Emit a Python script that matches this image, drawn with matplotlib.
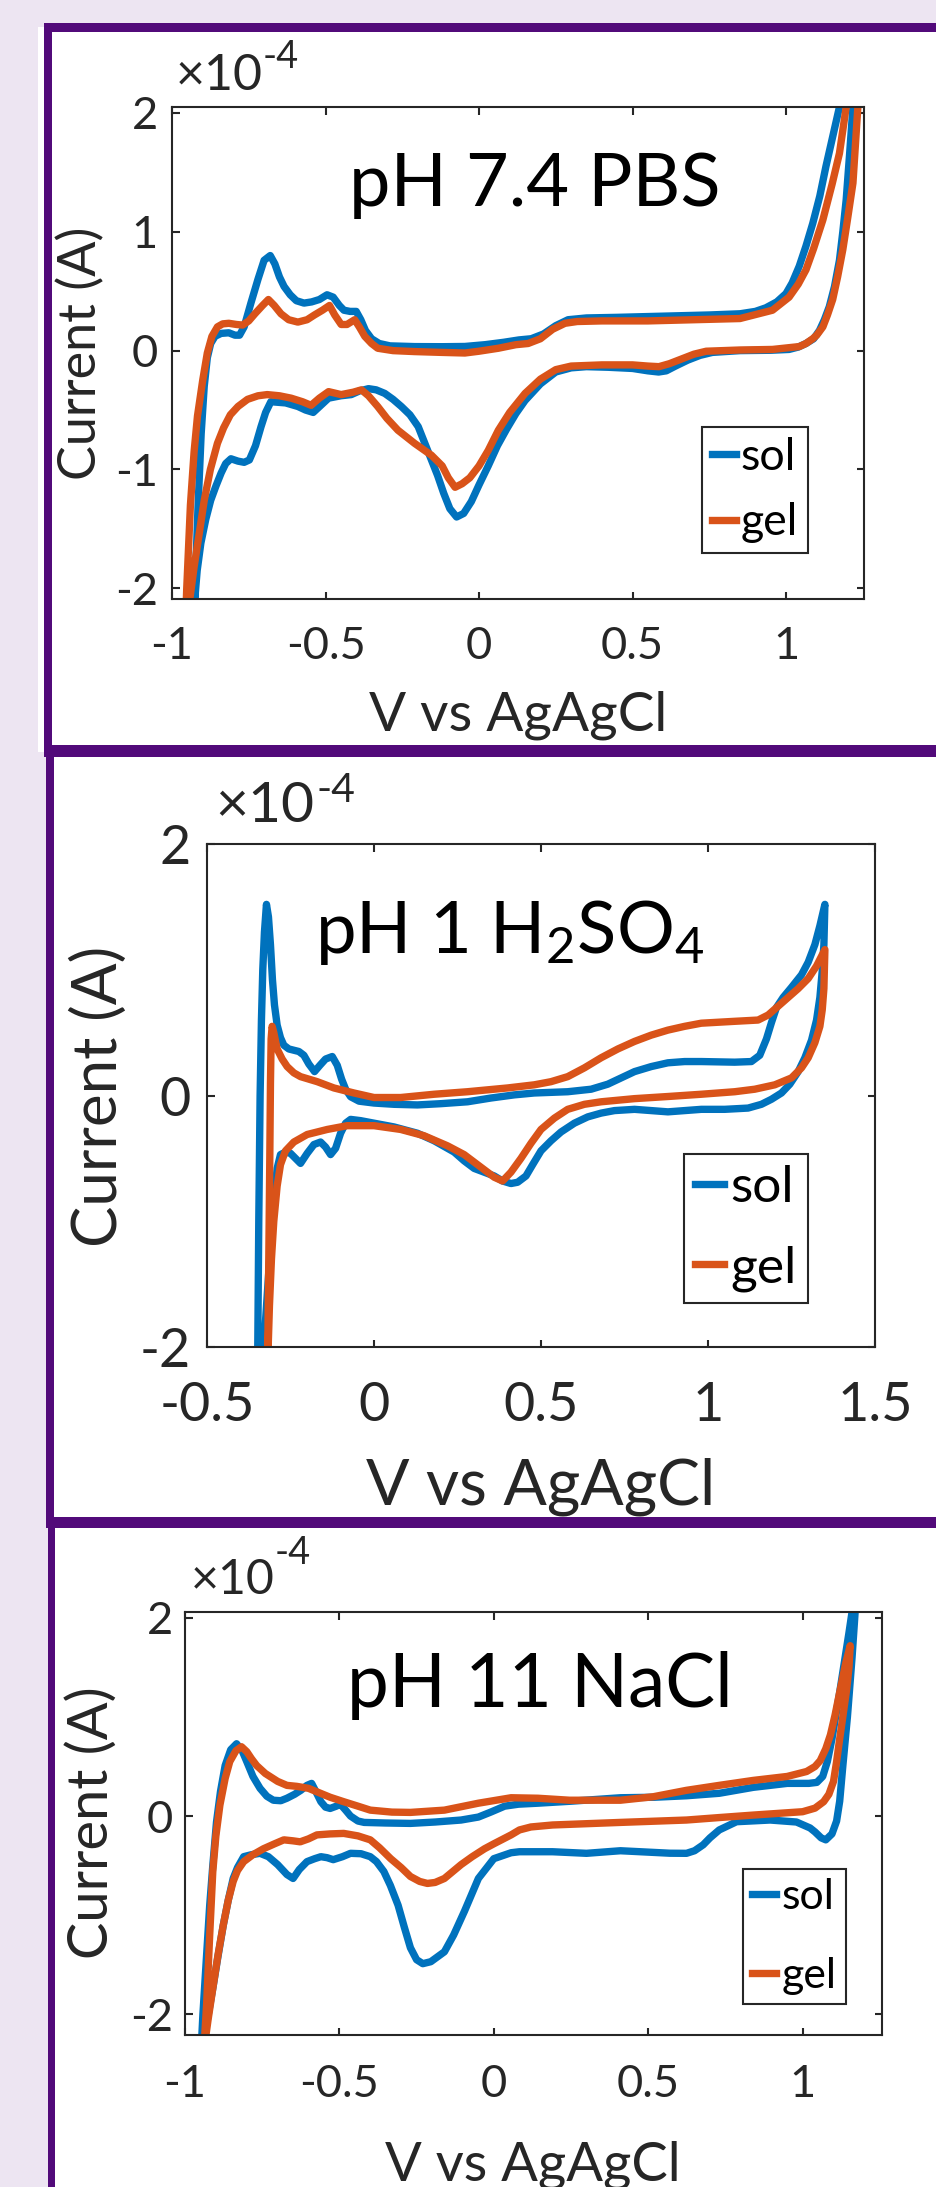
import matplotlib
matplotlib.use("Agg")
import matplotlib.pyplot as plt
from matplotlib.patches import Rectangle
from matplotlib.transforms import Affine2D
from matplotlib.ticker import FixedLocator, FormatStrFormatter

plt.rcParams['font.family'] = ['Lato', 'DejaVu Sans']
plt.rcParams['axes.unicode_minus'] = False
plt.rcParams['mathtext.fontset'] = 'custom'
plt.rcParams['mathtext.rm'] = 'Lato'
plt.rcParams['mathtext.it'] = 'Lato:italic'
plt.rcParams['mathtext.bf'] = 'Lato:bold'
plt.rcParams['mathtext.default'] = 'regular'

# ---------------- data (potential V vs Ag/AgCl, current in 1e-4 A) ----------------
series_labels = ['sol', 'gel']
panel_titles = ['pH 7.4 PBS', 'pH 1 H$_2$SO$_4$', 'pH 11 NaCl']

# pH 7.4 PBS
pbs_sol_v = [-0.935, -0.925, -0.915, -0.905, -0.895, -0.885, -0.874, -0.86, -0.84, -0.815, -0.795, -0.78,
             -0.765, -0.743, -0.72, -0.70, -0.68, -0.665, -0.65, -0.635, -0.615, -0.595, -0.57, -0.545,
             -0.52, -0.495, -0.475, -0.455, -0.44, -0.42, -0.40, -0.385, -0.37, -0.35, -0.325, -0.29,
             -0.21, -0.12, -0.046, 0.02, 0.08, 0.13, 0.17, 0.21, 0.25, 0.29, 0.35, 0.45, 0.60, 0.75,
             0.85, 0.90, 0.934, 0.97, 1.0, 1.02, 1.043, 1.065, 1.087, 1.11, 1.13, 1.152, 1.174, 1.225,
             1.218, 1.207, 1.196, 1.185, 1.174, 1.158, 1.141, 1.125, 1.109, 1.09, 1.065, 1.04, 1.01,
             0.95, 0.85, 0.76, 0.72, 0.68, 0.64, 0.61, 0.585, 0.55, 0.50, 0.42, 0.35, 0.30, 0.25, 0.20,
             0.15, 0.12, 0.09, 0.06, 0.03, 0.0, -0.025, -0.05, -0.073, -0.095, -0.115, -0.135, -0.155,
             -0.178, -0.198, -0.225, -0.253, -0.28, -0.307, -0.335, -0.36, -0.39, -0.416, -0.45, -0.49,
             -0.515, -0.54, -0.565, -0.59, -0.63, -0.678, -0.695, -0.71, -0.728, -0.748, -0.765, -0.785,
             -0.808, -0.825, -0.84, -0.857, -0.874, -0.89, -0.906, -0.918, -0.926, -0.935]
pbs_sol_i = [-2.6, -2.0, -1.3, -0.7, -0.30, -0.06, 0.06, 0.12, 0.145, 0.15, 0.13, 0.13,
             0.20, 0.40, 0.60, 0.76, 0.80, 0.73, 0.62, 0.54, 0.47, 0.42, 0.40, 0.41,
             0.43, 0.47, 0.45, 0.38, 0.34, 0.33, 0.33, 0.26, 0.17, 0.10, 0.06, 0.04,
             0.034, 0.033, 0.035, 0.05, 0.07, 0.09, 0.10, 0.14, 0.21, 0.26, 0.275, 0.28, 0.29, 0.30,
             0.31, 0.33, 0.36, 0.41, 0.48, 0.57, 0.71, 0.88, 1.07, 1.30, 1.55, 1.80, 2.05, 2.7,
             2.05, 1.65, 1.27, 1.0, 0.76, 0.54, 0.37, 0.26, 0.17, 0.10, 0.06, 0.03, 0.01,
             0.003, 0.0, -0.015, -0.04, -0.08, -0.13, -0.17, -0.18, -0.17, -0.15, -0.14, -0.135, -0.145, -0.18, -0.28,
             -0.42, -0.53, -0.66, -0.80, -0.97, -1.13, -1.27, -1.37, -1.40, -1.33, -1.20, -1.05, -0.92,
             -0.77, -0.64, -0.54, -0.47, -0.41, -0.36, -0.33, -0.32, -0.34, -0.37, -0.38, -0.40,
             -0.46, -0.52, -0.50, -0.47, -0.44, -0.43, -0.52, -0.64, -0.80, -0.92, -0.94, -0.93,
             -0.91, -0.95, -1.03, -1.14, -1.26, -1.42, -1.62, -1.85, -2.1, -2.6]

pbs_gel_v = [-0.96, -0.952, -0.94, -0.928, -0.917, -0.90, -0.885, -0.87, -0.852, -0.835, -0.815, -0.79,
             -0.77, -0.75, -0.73, -0.705, -0.686, -0.667, -0.645, -0.62, -0.59, -0.56, -0.536, -0.51,
             -0.487, -0.47, -0.449, -0.43, -0.405, -0.39, -0.372, -0.35, -0.33, -0.28, -0.21, -0.12,
             -0.046, 0.0, 0.063, 0.12, 0.16, 0.20, 0.24, 0.28, 0.32, 0.40, 0.55, 0.70, 0.85, 0.956,
             1.01, 1.04, 1.065, 1.09, 1.12, 1.15, 1.174, 1.196, 1.24,
             1.234, 1.218, 1.20, 1.185, 1.168, 1.152, 1.135, 1.12, 1.10, 1.087, 1.065, 1.043, 0.956,
             0.847, 0.74, 0.70, 0.66, 0.62, 0.586, 0.55, 0.50, 0.40, 0.30, 0.25, 0.20, 0.15, 0.10,
             0.063, 0.03, 0.0, -0.03, -0.055, -0.078, -0.10, -0.12, -0.155, -0.21, -0.264, -0.30,
             -0.33, -0.36, -0.383, -0.41, -0.449, -0.49, -0.52, -0.547, -0.575, -0.612, -0.65, -0.69,
             -0.72, -0.754, -0.785, -0.81, -0.832, -0.852, -0.875, -0.895, -0.912, -0.928, -0.945, -0.96]
pbs_gel_i = [-2.6, -2.0, -1.3, -0.85, -0.55, -0.25, -0.02, 0.12, 0.20, 0.225, 0.23, 0.22,
             0.215, 0.25, 0.31, 0.38, 0.43, 0.38, 0.31, 0.26, 0.24, 0.26, 0.30, 0.34,
             0.38, 0.30, 0.22, 0.22, 0.26, 0.20, 0.12, 0.06, 0.02, 0.0, -0.008, -0.015,
             -0.02, -0.005, 0.02, 0.05, 0.06, 0.10, 0.18, 0.23, 0.245, 0.25, 0.25, 0.26, 0.27, 0.34,
             0.45, 0.56, 0.68, 0.86, 1.10, 1.40, 1.66, 2.05, 2.7,
             2.05, 1.41, 1.10, 0.85, 0.62, 0.43, 0.30, 0.20, 0.13, 0.10, 0.06, 0.034, 0.01,
             0.005, -0.005, -0.03, -0.07, -0.11, -0.135, -0.13, -0.12, -0.12, -0.13, -0.16, -0.24, -0.36, -0.52,
             -0.67, -0.84, -0.97, -1.07, -1.12, -1.15, -1.07, -0.97, -0.88, -0.78, -0.67, -0.57,
             -0.47, -0.38, -0.33, -0.35, -0.37, -0.345, -0.40, -0.46, -0.43, -0.40, -0.38, -0.37,
             -0.38, -0.41, -0.47, -0.54, -0.65, -0.78, -1.0, -1.26, -1.55, -1.82, -2.15, -2.6]

# pH 1 H2SO4
acid_sol_v = [-0.35, -0.348, -0.345, -0.341, -0.337, -0.333, -0.328, -0.322, -0.316, -0.31, -0.304, -0.298,
              -0.29, -0.28, -0.27, -0.255, -0.24, -0.225, -0.21, -0.195, -0.178, -0.162, -0.145, -0.125,
              -0.11, -0.097, -0.085, -0.07, -0.045, 0.0, 0.06, 0.13, 0.20, 0.28, 0.35, 0.42, 0.48, 0.58,
              0.65, 0.70, 0.74, 0.78, 0.83, 0.88, 0.93, 0.98, 1.08, 1.13, 1.155, 1.175, 1.19, 1.205,
              1.225, 1.25, 1.28, 1.30, 1.32, 1.335, 1.35,
              1.347, 1.342, 1.335, 1.325, 1.31, 1.29, 1.27, 1.245, 1.22, 1.19, 1.16, 1.12, 1.05, 0.98,
              0.88, 0.78, 0.72, 0.68, 0.64, 0.60, 0.56, 0.53, 0.50, 0.475, 0.455, 0.43, 0.41, 0.385,
              0.36, 0.33, 0.30, 0.27, 0.24, 0.18, 0.13, 0.06, 0.0, -0.04, -0.07, -0.085, -0.10, -0.115,
              -0.13, -0.145, -0.16, -0.18, -0.20, -0.22, -0.235, -0.25, -0.265, -0.28, -0.29, -0.30,
              -0.31, -0.32, -0.33, -0.35]
acid_sol_i = [-2.5, -2.0, -1.0, 0.0, 0.6, 1.0, 1.3, 1.52, 1.42, 1.20, 0.92, 0.72,
              0.56, 0.46, 0.40, 0.37, 0.36, 0.35, 0.32, 0.25, 0.19, 0.24, 0.29, 0.31,
              0.24, 0.13, 0.05, -0.01, -0.045, -0.06, -0.07, -0.075, -0.065, -0.05, -0.02, 0.005, 0.02, 0.03,
              0.05, 0.09, 0.14, 0.19, 0.23, 0.26, 0.27, 0.27, 0.265, 0.27, 0.32, 0.45, 0.58, 0.70,
              0.78, 0.86, 0.96, 1.06, 1.2, 1.35, 1.52,
              1.2, 0.99, 0.78, 0.60, 0.44, 0.30, 0.19, 0.09, 0.02, -0.03, -0.07, -0.10, -0.11, -0.11,
              -0.13, -0.11, -0.12, -0.14, -0.17, -0.22, -0.29, -0.36, -0.44, -0.55, -0.64, -0.69, -0.70, -0.68,
              -0.64, -0.61, -0.58, -0.52, -0.45, -0.36, -0.30, -0.25, -0.22, -0.20, -0.19, -0.22, -0.30, -0.42,
              -0.47, -0.41, -0.37, -0.39, -0.46, -0.54, -0.50, -0.46, -0.45, -0.47, -0.58, -0.85,
              -1.20, -1.60, -2.0, -2.5]

acid_gel_v = [-0.322, -0.318, -0.315, -0.312, -0.31, -0.308, -0.305, -0.30, -0.29, -0.275, -0.26, -0.24,
              -0.22, -0.17, -0.12, -0.06, 0.0, 0.08, 0.18, 0.28, 0.40, 0.48, 0.53, 0.58, 0.63, 0.68,
              0.73, 0.78, 0.83, 0.88, 0.93, 0.98, 1.08, 1.15, 1.18, 1.21, 1.24, 1.27, 1.30, 1.325, 1.35,
              1.347, 1.342, 1.335, 1.32, 1.30, 1.28, 1.25, 1.2, 1.14, 1.08, 0.98, 0.88, 0.78, 0.68,
              0.63, 0.58, 0.54, 0.50, 0.47, 0.44, 0.41, 0.385, 0.36, 0.33, 0.30, 0.27, 0.22, 0.15,
              0.08, 0.0, -0.08, -0.14, -0.20, -0.24, -0.265, -0.28, -0.29, -0.30, -0.307, -0.313,
              -0.318, -0.322]
acid_gel_i = [-2.5, -2.0, -1.3, -0.5, 0.1, 0.45, 0.55, 0.50, 0.37, 0.29, 0.23, 0.18,
              0.15, 0.11, 0.06, 0.02, -0.016, -0.016, 0.01, 0.03, 0.06, 0.085, 0.11, 0.15, 0.22, 0.30,
              0.37, 0.43, 0.48, 0.52, 0.55, 0.575, 0.59, 0.60, 0.64, 0.71, 0.78, 0.85, 0.93, 1.03, 1.16,
              0.85, 0.68, 0.55, 0.42, 0.30, 0.22, 0.14, 0.085, 0.05, 0.03, 0.01, -0.008, -0.025, -0.05,
              -0.07, -0.11, -0.18, -0.27, -0.38, -0.50, -0.61, -0.68, -0.65, -0.59, -0.53, -0.47, -0.40, -0.32,
              -0.27, -0.24, -0.24, -0.27, -0.31, -0.37, -0.44, -0.55, -0.72, -1.0, -1.3, -1.67,
              -2.1, -2.5]

# pH 11 NaCl
nacl_sol_v = [-0.95, -0.942, -0.932, -0.92, -0.91, -0.898, -0.885, -0.87, -0.852, -0.833, -0.815, -0.80,
              -0.78, -0.757, -0.735, -0.714, -0.69, -0.67, -0.645, -0.625, -0.605, -0.59, -0.575, -0.56,
              -0.545, -0.53, -0.51, -0.497, -0.48, -0.464, -0.44, -0.42, -0.35, -0.27, -0.19, -0.106,
              -0.05, -0.01, 0.035, 0.08, 0.143, 0.25, 0.41, 0.52, 0.624, 0.73, 0.84, 0.95, 1.02, 1.046,
              1.065, 1.08, 1.095, 1.12, 1.15, 1.16, 1.175,
              1.17, 1.16, 1.145, 1.13, 1.12, 1.11, 1.095, 1.075, 1.06, 1.04, 1.024, 0.98, 0.895, 0.786,
              0.73, 0.70, 0.678, 0.65, 0.624, 0.57, 0.41, 0.30, 0.19, 0.083, 0.056, 0.0, -0.05, -0.095,
              -0.13, -0.16, -0.204, -0.23, -0.25, -0.27, -0.29, -0.31, -0.335, -0.356, -0.38, -0.40,
              -0.43, -0.464, -0.49, -0.52, -0.54, -0.56, -0.58, -0.605, -0.63, -0.65, -0.67, -0.70,
              -0.73, -0.757, -0.785, -0.81, -0.83, -0.844, -0.86, -0.876, -0.895, -0.91, -0.93, -0.95]
nacl_sol_i = [-2.5, -2.0, -1.5, -0.9, -0.5, -0.06, 0.25, 0.51, 0.67, 0.73, 0.66, 0.55,
              0.40, 0.28, 0.20, 0.16, 0.155, 0.18, 0.22, 0.26, 0.31, 0.33, 0.24, 0.145,
              0.09, 0.077, 0.10, 0.12, 0.06, 0.0, -0.05, -0.064, -0.07, -0.074, -0.06, -0.04,
              -0.01, 0.04, 0.10, 0.12, 0.13, 0.15, 0.185, 0.19, 0.205, 0.23, 0.29, 0.33, 0.33, 0.34,
              0.40, 0.55, 0.78, 1.25, 1.85, 2.06, 2.5,
              2.06, 1.6, 1.0, 0.5, 0.15, -0.05, -0.18, -0.24, -0.22, -0.16, -0.12, -0.06, -0.04, -0.057,
              -0.14, -0.22, -0.29, -0.35, -0.376, -0.375, -0.35, -0.376, -0.36, -0.36, -0.37, -0.43, -0.63, -0.96,
              -1.2, -1.37, -1.47, -1.49, -1.45, -1.33, -1.12, -0.90, -0.70, -0.56, -0.46, -0.41,
              -0.38, -0.376, -0.41, -0.44, -0.42, -0.41, -0.43, -0.46, -0.54, -0.63, -0.59, -0.49,
              -0.41, -0.376, -0.39, -0.41, -0.52, -0.63, -0.85, -1.1, -1.45, -1.74, -2.1, -2.5]

nacl_gel_v = [-0.945, -0.936, -0.93, -0.92, -0.91, -0.90, -0.887, -0.87, -0.855, -0.835, -0.817, -0.80,
              -0.785, -0.768, -0.74, -0.70, -0.67, -0.638, -0.60, -0.573, -0.53, -0.486, -0.44, -0.40,
              -0.33, -0.27, -0.16, -0.05, 0.056, 0.143, 0.245, 0.41, 0.516, 0.624, 0.73, 0.84, 0.95,
              1.013, 1.04, 1.057, 1.075, 1.09, 1.105, 1.12, 1.14, 1.154,
              1.15, 1.143, 1.13, 1.12, 1.11, 1.1, 1.085, 1.068, 1.04, 1.0, 0.84, 0.73, 0.624, 0.41,
              0.19, 0.12, 0.083, 0.056, 0.0, -0.03, -0.07, -0.106, -0.16, -0.19, -0.215, -0.24, -0.27,
              -0.30, -0.334, -0.37, -0.40, -0.44, -0.486, -0.53, -0.573, -0.60, -0.627, -0.65, -0.68,
              -0.71, -0.746, -0.78, -0.81, -0.83, -0.844, -0.86, -0.876, -0.893, -0.91, -0.925, -0.945]
nacl_gel_i = [-2.5, -2.21, -1.9, -1.2, -0.56, -0.2, 0.11, 0.38, 0.55, 0.66, 0.70, 0.65,
              0.58, 0.51, 0.43, 0.35, 0.31, 0.30, 0.28, 0.245, 0.19, 0.145, 0.10, 0.06,
              0.04, 0.037, 0.06, 0.13, 0.185, 0.18, 0.16, 0.16, 0.195, 0.26, 0.31, 0.36, 0.40,
              0.45, 0.50, 0.56, 0.68, 0.82, 1.02, 1.25, 1.55, 1.72,
              1.5, 1.29, 1.0, 0.78, 0.55, 0.35, 0.22, 0.145, 0.08, 0.044, 0.01, -0.015, -0.04, -0.064,
              -0.09, -0.11, -0.14, -0.19, -0.28, -0.33, -0.41, -0.49, -0.63, -0.67, -0.68, -0.66, -0.61,
              -0.52, -0.43, -0.32, -0.24, -0.20, -0.175, -0.18, -0.19, -0.23, -0.26, -0.25, -0.24,
              -0.28, -0.33, -0.39, -0.46, -0.55, -0.66, -0.85, -1.1, -1.4, -1.74, -2.05, -2.5]

# ---------------- styling ----------------
W, H, DPI = 937, 2187, 100
LAVENDER = '#EDE5F2'
PURPLE = '#520A7A'
BLUE = '#0072BD'
ORANGE = '#D95319'
DARK = '#262626'
LW = 5.3

fig = plt.figure(figsize=(W / DPI, H / DPI), dpi=DPI)
fig.patch.set_facecolor(LAVENDER)
PX = Affine2D().scale(1.0 / W, -1.0 / H).translate(0, 1) + fig.transFigure
renderer = fig.canvas.get_renderer()

# background frames
bg = fig.add_axes([0, 0, 1, 1])
bg.set_zorder(-5)
bg.set_xlim(0, W)
bg.set_ylim(H, 0)
bg.axis('off')
for (x, y, w, h, c) in [
    (38, 27, W, 725, 'white'), (54, 757, W, 760, 'white'), (55, 1528, W, 700, 'white'),
    (44, 23, W, 9, PURPLE), (44, 23, 8, 734, PURPLE), (44, 745, W, 12, PURPLE),
    (46, 745, 8, 783, PURPLE), (46, 1517, W, 11, PURPLE), (48, 1517, 7, 720, PURPLE)]:
    bg.add_patch(Rectangle((x, y), w, h, facecolor=c, edgecolor='none'))


def pt(px):
    return px * 72.0 / DPI


def width_at(s, size, **kw):
    t = fig.text(0, 0, s, fontsize=size, **kw)
    w = t.get_window_extent(renderer).width
    t.remove()
    return w


def fit_size(s, target, base=30.0):
    return base * target / width_at(s, base)


def panel(cfg, sol_v, sol_i, gel_v, gel_i, title):
    left, top, right, bottom = cfg['box']
    ax = fig.add_axes([left / W, 1 - bottom / H, (right - left) / W, (bottom - top) / H])
    ax.plot(sol_v, sol_i, color=BLUE, lw=LW, label=series_labels[0], solid_joinstyle='round')
    ax.plot(gel_v, gel_i, color=ORANGE, lw=LW, label=series_labels[1], solid_joinstyle='round')
    ax.set_xlim(cfg['xlim'])
    ax.set_ylim(cfg['ylim'])
    ax.xaxis.set_major_locator(FixedLocator(cfg['xticks']))
    ax.yaxis.set_major_locator(FixedLocator(cfg['yticks']))
    ax.xaxis.set_major_formatter(FormatStrFormatter('%g'))
    ax.yaxis.set_major_formatter(FormatStrFormatter('%g'))
    ts = fit_size('0.5', cfg['tickw'])
    ax.tick_params(direction='in', length=5.4, width=1.5, top=True, right=True,
                   color=DARK, labelcolor=DARK, labelsize=ts)
    ax.tick_params(axis='x', pad=pt(cfg['xpad']))
    ax.tick_params(axis='y', pad=pt(cfg['ypad']))
    for s in ax.spines.values():
        s.set_linewidth(1.5)
        s.set_color(DARK)

    # axis labels
    xs = fit_size('V vs AgAgCl', cfg['xlab'][2])
    ax.set_xlabel('V vs AgAgCl', fontsize=xs, color=DARK)
    ax.xaxis.label.set_va('baseline')
    ax.xaxis.set_label_coords(cfg['xlab'][0], cfg['xlab'][1], transform=PX)
    ys = fit_size('Current (A)', cfg['ylab'][2])
    ax.set_ylabel('Current (A)', fontsize=ys, color=DARK)
    ax.yaxis.label.set_va('baseline')
    ax.yaxis.set_label_coords(cfg['ylab'][0], cfg['ylab'][1], transform=PX)

    # title inside axes
    tsz = fit_size(title, cfg['title'][2])
    ax.text(cfg['title'][0], cfg['title'][1], title, transform=PX, ha='center', va='baseline',
            fontsize=tsz, color='black')

    # exponent label
    ex = cfg['exp']
    s1 = fit_size('\u00d710', ex[2])
    ax.text(ex[0], ex[1], '\u00d710', transform=PX, ha='left', va='baseline', fontsize=s1,
            color=DARK, clip_on=False)
    s2 = fit_size('-4', ex[5])
    ax.text(ex[3], ex[4], '-4', transform=PX, ha='left', va='baseline', fontsize=s2,
            color=DARK, clip_on=False)

    # legend
    lx, ly, lw_t, lh_t, sol_w = cfg['legend']
    fs = fit_size('sol', sol_w) * 1.06
    fs_px = fs * DPI / 72.0
    bp, hl, htp, ls = 0.22, 0.7, 0.12, 0.6
    for _ in range(3):
        leg = ax.legend(loc='upper right', bbox_to_anchor=(lx, ly), bbox_transform=PX,
                        borderaxespad=0, fontsize=fs, borderpad=bp, handlelength=hl,
                        handletextpad=htp, labelspacing=ls, fancybox=False, framealpha=1,
                        edgecolor=DARK, labelcolor='black')
        bb = leg.get_window_extent(renderer)
        hl = max(0.3, hl + (lw_t - bb.width) / fs_px)
        ls = max(0.0, ls + (lh_t - bb.height) / fs_px)
    leg.get_frame().set_linewidth(1.5)
    return ax


cfg1 = dict(box=(172, 107, 864, 599), xlim=(-1.0, 1.254), ylim=(-2.09, 2.05),
            xticks=[-1, -0.5, 0, 0.5, 1], yticks=[-2, -1, 0, 1, 2], tickw=63, xpad=27, ypad=14,
            xlab=(518, 730, 298), ylab=(96, 353, 254), title=(535, 206, 370),
            exp=(176, 90, 87, 263, 68, 36), legend=(808, 427, 106, 126, 52))
cfg2 = dict(box=(207, 844, 875, 1347), xlim=(-0.5, 1.5), ylim=(-2.0, 2.0),
            xticks=[-0.5, 0, 0.5, 1, 1.5], yticks=[-2, 0, 2], tickw=75, xpad=34, ypad=16,
            xlab=(541, 1504, 349), ylab=(117, 1096, 301), title=(509.5, 953, 391),
            exp=(215, 822, 99, 317, 802, 39), legend=(808, 1154, 124, 149, 60))
cfg3 = dict(box=(185, 1612, 882, 2035), xlim=(-1.0, 1.257), ylim=(-2.21, 2.06),
            xticks=[-1, -0.5, 0, 0.5, 1], yticks=[-2, 0, 2], tickw=63, xpad=29, ypad=12,
            xlab=(533, 2181, 295), ylab=(108, 1823, 272), title=(539.5, 1707, 385),
            exp=(191, 1594, 84, 275, 1564, 36), legend=(846, 1869, 103, 135, 50))

panel(cfg1, pbs_sol_v, pbs_sol_i, pbs_gel_v, pbs_gel_i, panel_titles[0])
panel(cfg2, acid_sol_v, acid_sol_i, acid_gel_v, acid_gel_i, panel_titles[1])
panel(cfg3, nacl_sol_v, nacl_sol_i, nacl_gel_v, nacl_gel_i, panel_titles[2])

fig.savefig('out.png', dpi=DPI, facecolor=fig.get_facecolor())
